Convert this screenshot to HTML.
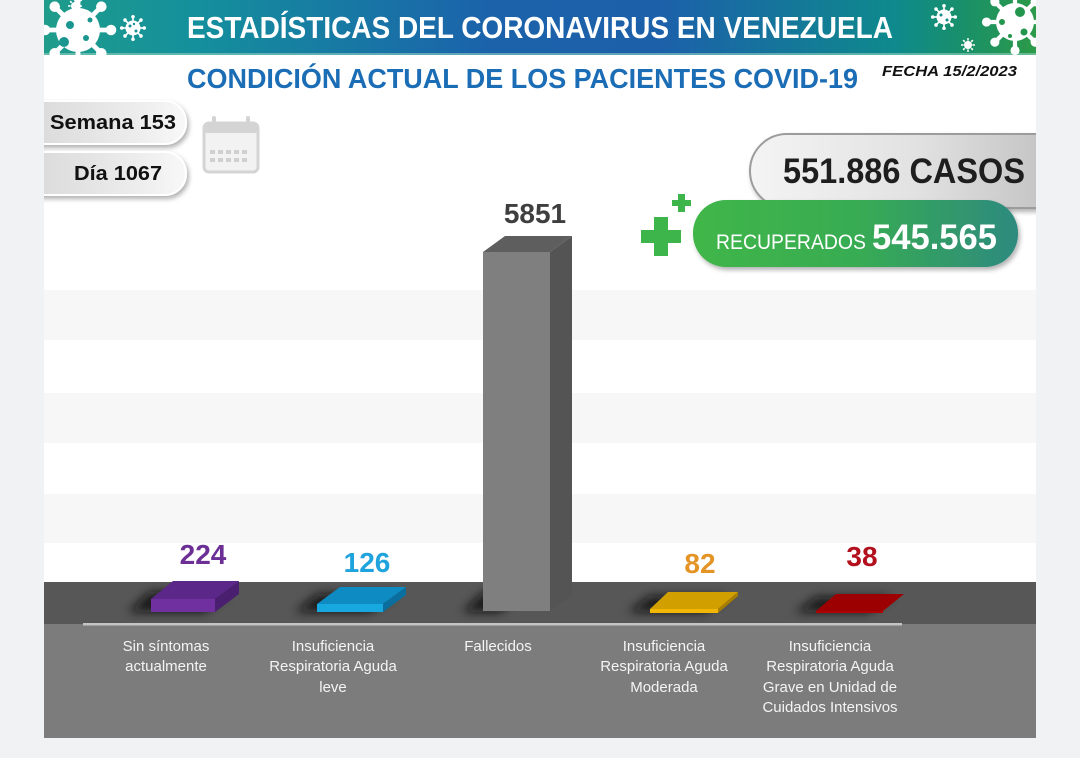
<!DOCTYPE html>
<html><head><meta charset="utf-8"><style>
html,body{margin:0;padding:0;background:#f1f2f4;}
svg{display:block;}
text{font-family:"Liberation Sans",sans-serif;}
</style></head><body>
<svg width="1080" height="758" viewBox="0 0 1080 758" xmlns="http://www.w3.org/2000/svg">
<defs>
<linearGradient id="hdr" x1="44" y1="0" x2="1036" y2="0" gradientUnits="userSpaceOnUse">
 <stop offset="0" stop-color="#1f9c8a"/>
 <stop offset="0.15" stop-color="#14909c"/>
 <stop offset="0.45" stop-color="#1b62ab"/>
 <stop offset="0.62" stop-color="#1c60aa"/>
 <stop offset="0.86" stop-color="#0e8a8c"/>
 <stop offset="0.93" stop-color="#1a9068"/>
 <stop offset="1" stop-color="#2c9a48"/>
</linearGradient>
<linearGradient id="pill" x1="0" y1="0" x2="1" y2="0">
 <stop offset="0" stop-color="#d6d6d6"/>
 <stop offset="0.7" stop-color="#ececec"/>
 <stop offset="1" stop-color="#f8f8f8"/>
</linearGradient>
<linearGradient id="casos" x1="0" y1="0" x2="1" y2="0">
 <stop offset="0" stop-color="#f4f4f4"/>
 <stop offset="0.5" stop-color="#e2e2e2"/>
 <stop offset="1" stop-color="#bcbcbc"/>
</linearGradient>
<linearGradient id="recu" x1="0" y1="0" x2="1" y2="0">
 <stop offset="0" stop-color="#40b649"/>
 <stop offset="0.5" stop-color="#38ac52"/>
 <stop offset="1" stop-color="#2d8a7e"/>
</linearGradient>
<filter id="sh" x="-20%" y="-30%" width="140%" height="160%">
 <feDropShadow dx="2" dy="3" stdDeviation="2.5" flood-color="#000" flood-opacity="0.3"/>
</filter>
<filter id="blur" x="-50%" y="-100%" width="200%" height="300%">
 <feGaussianBlur stdDeviation="5"/>
</filter>
<clipPath id="card"><rect x="44" y="0" width="992" height="738"/></clipPath>
<g id="vir">
 <g stroke="#fff" stroke-width="2.2">
  <line x1="0" y1="0" x2="15" y2="0"/><line x1="0" y1="0" x2="10.6" y2="10.6"/>
  <line x1="0" y1="0" x2="0" y2="15"/><line x1="0" y1="0" x2="-10.6" y2="10.6"/>
  <line x1="0" y1="0" x2="-15" y2="0"/><line x1="0" y1="0" x2="-10.6" y2="-10.6"/>
  <line x1="0" y1="0" x2="0" y2="-15"/><line x1="0" y1="0" x2="10.6" y2="-10.6"/>
 </g>
 <g fill="#fff">
  <circle r="10"/>
  <circle cx="15" cy="0" r="2.4"/><circle cx="10.6" cy="10.6" r="2.4"/>
  <circle cx="0" cy="15" r="2.4"/><circle cx="-10.6" cy="10.6" r="2.4"/>
  <circle cx="-15" cy="0" r="2.4"/><circle cx="-10.6" cy="-10.6" r="2.4"/>
  <circle cx="0" cy="-15" r="2.4"/><circle cx="10.6" cy="-10.6" r="2.4"/>
 </g>
</g>
</defs>

<rect x="0" y="0" width="1080" height="758" fill="#f1f2f4"/>
<rect x="44" y="0" width="992" height="738" fill="#ffffff"/>

<!-- header banner -->
<g clip-path="url(#card)">
<rect x="44" y="0" width="992" height="55" fill="url(#hdr)"/>
<rect x="44" y="53" width="992" height="2" fill="#8fd0c0" opacity="0.6"/>
<!-- left viruses -->
<g transform="translate(78,30) scale(2.2)"><use href="#vir"/></g>
<circle cx="70" cy="25" r="4" fill="#1b9590"/><circle cx="86" cy="38" r="3" fill="#1b9590"/><circle cx="64" cy="42" r="5" fill="#1b9590"/><circle cx="90" cy="20" r="2.5" fill="#1b9590"/>
<g transform="translate(75,6) scale(0.4)"><use href="#vir"/></g>
<g transform="translate(133,28) scale(0.75)"><use href="#vir"/></g>
<circle cx="130" cy="26" r="1.5" fill="#1a8f9a"/><circle cx="136" cy="31" r="1.5" fill="#1a8f9a"/><circle cx="134" cy="24" r="1.2" fill="#1a8f9a"/>
<!-- right viruses -->
<g transform="translate(944,17) scale(0.75)"><use href="#vir"/></g>
<circle cx="941" cy="15" r="1.5" fill="#138a8a"/><circle cx="947" cy="20" r="1.5" fill="#138a8a"/>
<g transform="translate(968,45) scale(0.4)"><use href="#vir"/></g>
<g transform="translate(1015,22) scale(1.9)"><use href="#vir"/></g>
<circle cx="1020" cy="12" r="5" fill="#23964e"/><circle cx="1002" cy="22" r="3" fill="#23964e"/><circle cx="1024" cy="32" r="3.5" fill="#23964e"/><circle cx="1010" cy="36" r="2" fill="#23964e"/>
</g>
<text x="187" y="38" font-size="31" font-weight="bold" fill="#ffffff" textLength="706" lengthAdjust="spacingAndGlyphs">ESTADÍSTICAS DEL CORONAVIRUS EN VENEZUELA</text>

<!-- subtitle -->
<text x="187" y="88" font-size="28" font-weight="bold" fill="#1b6db5" textLength="671" lengthAdjust="spacingAndGlyphs">CONDICIÓN ACTUAL DE LOS PACIENTES COVID-19</text>
<text x="882" y="76" font-size="15" font-weight="bold" font-style="italic" fill="#111" textLength="135" lengthAdjust="spacingAndGlyphs">FECHA 15/2/2023</text>

<!-- stripes -->
<rect x="44" y="290" width="992" height="50" fill="#f7f7f7"/>
<rect x="44" y="393" width="992" height="50" fill="#f7f7f7"/>
<rect x="44" y="494" width="992" height="49" fill="#f7f7f7"/>

<!-- semana / dia pills -->
<g clip-path="url(#card)">
<rect x="10" y="101" width="176" height="43" rx="21" fill="url(#pill)" stroke="#ffffff" stroke-width="2" filter="url(#sh)"/>
<rect x="10" y="152" width="176" height="43" rx="21" fill="url(#pill)" stroke="#ffffff" stroke-width="2" filter="url(#sh)"/>
</g>
<text x="50" y="129" font-size="20" font-weight="bold" fill="#111" textLength="126" lengthAdjust="spacingAndGlyphs">Semana 153</text>
<text x="74" y="180" font-size="20" font-weight="bold" fill="#111" textLength="88" lengthAdjust="spacingAndGlyphs">Día 1067</text>

<!-- calendar icon -->
<g>
<rect x="204" y="123" width="54" height="49" rx="5" fill="#f2f2f2" stroke="#d4d4d4" stroke-width="3"/>
<rect x="204" y="123" width="54" height="10" rx="3" fill="#d4d4d4"/>
<rect x="212" y="116" width="4" height="12" rx="2" fill="#d4d4d4"/>
<rect x="246" y="116" width="4" height="12" rx="2" fill="#d4d4d4"/>
<g fill="#d0d0d0">
<rect x="210" y="150" width="5" height="4"/><rect x="218" y="150" width="5" height="4"/><rect x="226" y="150" width="5" height="4"/><rect x="234" y="150" width="5" height="4"/><rect x="242" y="150" width="5" height="4"/>
<rect x="210" y="158" width="5" height="4"/><rect x="218" y="158" width="5" height="4"/><rect x="226" y="158" width="5" height="4"/><rect x="234" y="158" width="5" height="4"/><rect x="242" y="158" width="5" height="4"/>
</g>
</g>

<!-- casos pill -->
<g clip-path="url(#card)">
<rect x="750" y="134" width="330" height="74" rx="37" fill="url(#casos)" stroke="#9c9c9c" stroke-width="2" filter="url(#sh)"/>
</g>
<text x="783" y="183" font-size="35" font-weight="bold" fill="#1e1e1e" textLength="242" lengthAdjust="spacingAndGlyphs">551.886 CASOS</text>

<!-- recuperados pill -->
<rect x="693" y="200" width="325" height="67" rx="33" fill="url(#recu)" filter="url(#sh)"/>
<text x="716" y="249" font-size="21" fill="#ffffff" textLength="150" lengthAdjust="spacingAndGlyphs">RECUPERADOS</text>
<text x="872" y="249" font-size="35" font-weight="bold" fill="#ffffff" textLength="125" lengthAdjust="spacingAndGlyphs">545.565</text>

<!-- plus icons -->
<g fill="#3db54a">
<rect x="641" y="230" width="40" height="13"/>
<rect x="654" y="217" width="14" height="39"/>
<rect x="672" y="200" width="19" height="6"/>
<rect x="678" y="194" width="7" height="18"/>
</g>

<!-- floor -->
<rect x="44" y="582" width="992" height="42" fill="#575757"/>
<rect x="44" y="624" width="992" height="114" fill="#7c7c7c"/>
<rect x="83" y="623" width="819" height="2.5" fill="#c4c4c4"/>

<!-- shadows -->
<g fill="#111" opacity="0.85" filter="url(#blur)">
<polygon points="128,612 150,592 230,592 205,612"/>
<polygon points="295,612 318,594 395,594 370,612"/>
<polygon points="462,612 484,592 520,592 500,612"/>
<polygon points="628,612 650,596 728,596 705,612"/>
<polygon points="795,612 817,597 892,597 868,612"/>
</g>

<!-- Fallecidos bar -->
<rect x="483" y="252" width="67" height="359" fill="#7f7f7f"/>
<polygon points="550,252 572,236 572,595 550,611" fill="#545454"/>
<polygon points="483,252 505,236 572,236 550,252" fill="#5e5e5e"/>

<!-- small bars -->
<rect x="151" y="599" width="64" height="13" fill="#7030a0"/>
<polygon points="151,599 173,581 239,581 215,599" fill="#5b2788"/>
<polygon points="215,599 239,581 239,594 215,612" fill="#4a1f70"/>

<rect x="317" y="604" width="66" height="8" fill="#18a8e0"/>
<polygon points="317,604 340,587 406,587 383,604" fill="#0d8bc2"/>
<polygon points="383,604 406,587 406,595 383,612" fill="#0a6f9e"/>

<rect x="650" y="609" width="68" height="4" fill="#f2b705"/>
<polygon points="650,609 668,592 738,592 718,609" fill="#d29f00"/>
<polygon points="718,609 738,592 738,596 718,613" fill="#a87e00"/>

<rect x="816" y="611" width="67" height="2" fill="#b00000"/>
<polygon points="816,611 836,594 904,594 883,611" fill="#9c0000"/>

<!-- value labels -->
<text x="203" y="564" font-size="28" font-weight="bold" fill="#6b2f96" text-anchor="middle">224</text>
<text x="367" y="572" font-size="28" font-weight="bold" fill="#1fa3dc" text-anchor="middle">126</text>
<text x="535" y="223" font-size="28" font-weight="bold" fill="#3f3f3f" text-anchor="middle">5851</text>
<text x="700" y="573" font-size="28" font-weight="bold" fill="#e39424" text-anchor="middle">82</text>
<text x="862" y="566" font-size="28" font-weight="bold" fill="#b3101d" text-anchor="middle">38</text>

<!-- category labels -->
<g font-size="15" fill="#f4f4f4" text-anchor="middle">
<text x="166" y="651">Sin síntomas</text>
<text x="166" y="671">actualmente</text>
<text x="333" y="651">Insuficiencia</text>
<text x="333" y="671">Respiratoria Aguda</text>
<text x="333" y="692">leve</text>
<text x="498" y="651">Fallecidos</text>
<text x="664" y="651">Insuficiencia</text>
<text x="664" y="671">Respiratoria Aguda</text>
<text x="664" y="692">Moderada</text>
<text x="830" y="651">Insuficiencia</text>
<text x="830" y="671">Respiratoria Aguda</text>
<text x="830" y="692">Grave en Unidad de</text>
<text x="830" y="712">Cuidados Intensivos</text>
</g>
</svg>
</body></html>
